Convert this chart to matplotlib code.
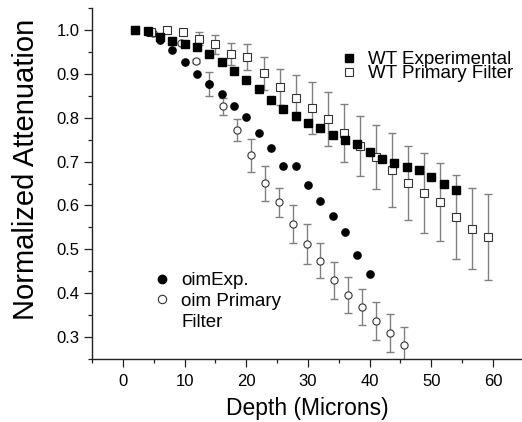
import numpy as np
import matplotlib
matplotlib.use("Agg")
import matplotlib.pyplot as plt
from matplotlib.lines import Line2D
from matplotlib.ticker import MultipleLocator, FormatStrFormatter

plt.rcParams["font.family"] = ["Liberation Sans", "DejaVu Sans"]

# WT experimental (filled squares)
wt_exp_x = [2, 4, 6, 8, 10, 12, 14, 16, 18, 20, 22, 24, 26, 28, 30, 32, 34,
            36, 38, 40, 42, 44, 46, 48, 50, 52, 54]
wt_exp_y = [1.0, 0.998, 0.984, 0.974, 0.968, 0.961, 0.946, 0.927, 0.906,
            0.886, 0.866, 0.84, 0.82, 0.803, 0.789, 0.776, 0.761, 0.749,
            0.74, 0.722, 0.706, 0.696, 0.687, 0.68, 0.664, 0.65, 0.636]

# WT primary filter (open squares with error bars)
wt_pf_x = [2.0, 4.6, 7.2, 9.8, 12.4, 15.0, 17.6, 20.2, 22.8, 25.4, 28.0,
           30.6, 33.2, 35.8, 38.4, 41.0, 43.6, 46.2, 48.8, 51.4, 54.0,
           56.6, 59.2]
wt_pf_y = [1.0, 0.995, 1.0, 0.996, 0.98, 0.967, 0.946, 0.938, 0.901, 0.87,
           0.846, 0.822, 0.797, 0.766, 0.735, 0.711, 0.681, 0.651, 0.629,
           0.607, 0.574, 0.547, 0.529]
wt_pf_err = [0, 0, 0, 0.005, 0.0145, 0.021, 0.025, 0.030, 0.038, 0.042,
             0.052, 0.059, 0.061, 0.066, 0.068, 0.073, 0.084, 0.085, 0.091,
             0.089, 0.095, 0.092, 0.098]

# oim experimental (filled circles)
oim_exp_x = [2, 4, 6, 8, 10, 12, 14, 16, 18, 20, 22, 24, 26, 28, 30, 32, 34,
             36, 38, 40]
oim_exp_y = [1.0, 0.995, 0.976, 0.954, 0.927, 0.899, 0.877, 0.854, 0.826,
             0.801, 0.765, 0.731, 0.69, 0.69, 0.647, 0.61, 0.575, 0.539,
             0.486, 0.443]

# oim primary filter (open circles with error bars)
oim_pf_x = [4.9, 7.2, 9.5, 11.8, 14.0, 16.3, 18.5, 20.8, 23.0, 25.3, 27.5,
            29.8, 32.0, 34.2, 36.5, 38.8, 41.0, 43.3, 45.5]
oim_pf_y = [0.994, 1.0, 0.971, 0.929, 0.877, 0.826, 0.772, 0.714, 0.651,
            0.607, 0.558, 0.512, 0.474, 0.429, 0.396, 0.368, 0.336, 0.309,
            0.282]
oim_pf_err = [0, 0, 0, 0.004, 0.027, 0.020, 0.026, 0.038, 0.040, 0.033,
              0.043, 0.045, 0.040, 0.042, 0.041, 0.041, 0.043, 0.044, 0.040]

fig = plt.figure(figsize=(5.22, 4.22), dpi=100)
ax = fig.add_axes([92 / 522, 63 / 422, 430 / 522, 351 / 422])

bar_color = "#808080"
edge = "#333333"
ms = 5.2

# open markers with error bars
ax.errorbar(oim_pf_x, oim_pf_y, yerr=oim_pf_err, fmt="none", ecolor=bar_color,
            elinewidth=1.0, capsize=3, capthick=1.0, zorder=2)
ax.errorbar(wt_pf_x, wt_pf_y, yerr=wt_pf_err, fmt="none", ecolor=bar_color,
            elinewidth=1.0, capsize=3, capthick=1.0, zorder=2)
ax.plot(oim_pf_x, oim_pf_y, "o", ms=ms, mfc="white", mec=edge, mew=0.8,
        linestyle="none", zorder=3)
ax.plot(wt_pf_x, wt_pf_y, "s", ms=ms, mfc="white", mec=edge, mew=0.8,
        linestyle="none", zorder=3)

# filled markers
ax.plot(wt_exp_x, wt_exp_y, "s", ms=ms, color="black", linestyle="none",
        zorder=4)
ax.plot(oim_exp_x, oim_exp_y, "o", ms=ms, color="black", linestyle="none",
        zorder=4)

ax.set_xlim(-5, 64.7)
ax.set_ylim(0.25, 1.05)
ax.xaxis.set_major_locator(MultipleLocator(10))
ax.xaxis.set_minor_locator(MultipleLocator(5))
ax.yaxis.set_major_locator(MultipleLocator(0.1))
ax.yaxis.set_minor_locator(MultipleLocator(0.05))
ax.yaxis.set_major_formatter(FormatStrFormatter("%.1f"))
ax.set_yticks(np.arange(0.3, 1.01, 0.1))

for side in ["top", "right"]:
    ax.spines[side].set_visible(False)
for side in ["left", "bottom"]:
    ax.spines[side].set_color("#222222")
    ax.spines[side].set_linewidth(1.0)

ax.tick_params(which="major", direction="out", length=5.5, width=0.9,
               labelsize=12, color="#222222")
ax.tick_params(axis="x", which="major", pad=5)
ax.tick_params(which="minor", direction="out", length=2.8, width=0.9,
               color="#222222")

ax.set_xlabel("Depth (Microns)", fontsize=16.5, labelpad=6)
ax.set_ylabel("Normalized Attenuation", fontsize=21)
ax.yaxis.set_label_coords(-0.122, 0.54)

# legends
h_wt_exp = Line2D([], [], marker="s", ms=6, color="black", linestyle="none")
h_wt_pf = Line2D([], [], marker="s", ms=6, mfc="white", mec=edge, mew=0.8,
                 linestyle="none")
leg1 = ax.legend([h_wt_exp, h_wt_pf], ["WT Experimental", "WT Primary Filter"],
                 loc="upper left", bbox_to_anchor=(340 / 522, 1 - 51 / 422),
                 bbox_transform=fig.transFigure, frameon=False, fontsize=13.5,
                 borderpad=0, borderaxespad=0, handlelength=1.0,
                 handletextpad=0.5, labelspacing=-0.15)
ax.add_artist(leg1)

h_oim_exp = Line2D([], [], marker="o", ms=6, color="black", linestyle="none")
h_oim_pf = Line2D([], [], marker="o", ms=6, mfc="white", mec=edge, mew=0.8,
                  linestyle="none")
h_blank = Line2D([], [], linestyle="none")
ax.legend([h_oim_exp, h_oim_pf, h_blank], ["oimExp.", "oim Primary", "Filter"],
          loc="upper left", bbox_to_anchor=(153 / 522, 1 - 272 / 422),
          bbox_transform=fig.transFigure, frameon=False, fontsize=13.5,
          borderpad=0, borderaxespad=0, handlelength=1.0,
          handletextpad=0.5, labelspacing=0.2)

fig.savefig("out.png", dpi=100)
